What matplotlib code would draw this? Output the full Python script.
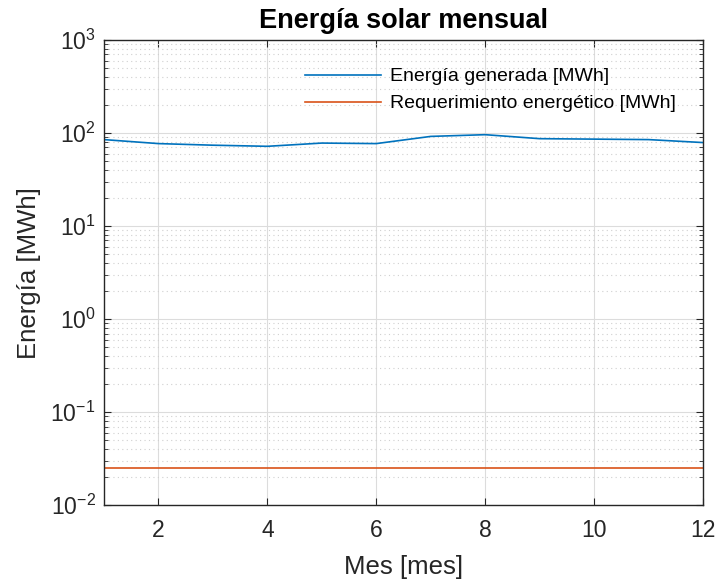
import numpy as np
import matplotlib.pyplot as plt
from matplotlib.ticker import LogLocator, NullFormatter

plt.rcParams['font.family'] = ['Liberation Sans', 'DejaVu Sans']

# datos
meses = np.arange(1, 13)
energia_generada = [85, 77, 74, 72, 78, 77, 92, 96, 87, 86, 85, 79]
requerimiento = [0.025] * 12

fig = plt.figure(figsize=(7.17, 5.84), dpi=100)
ax = fig.add_axes([0.145, 0.135, 0.8355, 0.7965])

ax.plot(meses, energia_generada, color='#0072BD', lw=1.2, label='Energía generada [MWh]')
ax.plot(meses, requerimiento, color='#D95319', lw=1.2, label='Requerimiento energético [MWh]')

ax.set_yscale('log')
ax.set_xlim(1, 12)
ax.set_ylim(1e-2, 1e3)
ax.set_xticks([2, 4, 6, 8, 10, 12])
ax.yaxis.set_major_locator(LogLocator(base=10, numticks=10))
ax.yaxis.set_minor_locator(LogLocator(base=10, subs=np.arange(2, 10), numticks=50))
ax.yaxis.set_minor_formatter(NullFormatter())

ax.grid(True, which='major', color='#dcdcdc', lw=0.8)
ax.grid(True, which='minor', axis='y', color='#d0d0d0', lw=0.8, ls=(0, (1, 3)))
ax.set_axisbelow(True)

ax.tick_params(which='both', direction='in', top=True, right=True, labelsize=16.5, colors='#262626')
ax.tick_params(which='major', length=5)
ax.tick_params(which='minor', length=3)
ax.tick_params(axis='x', pad=10)
ax.tick_params(axis='y', pad=6)
for s in ax.spines.values():
    s.set_color('#262626')
    s.set_linewidth(1.0)

ax.set_xlabel('Mes [mes]', fontsize=18.5, color='#262626', labelpad=9)
ax.set_ylabel('Energía [MWh]', fontsize=18.5, color='#262626', labelpad=7)
ax.set_title('Energía solar mensual', fontsize=19.5, fontweight='bold', color='black', pad=9)

ax.legend(loc='upper right', bbox_to_anchor=(0.967, 0.957), borderaxespad=0, frameon=False,
          fontsize=14, handlelength=3.9, handletextpad=0.45, labelspacing=0.48)

fig.savefig('out.png', dpi=100)
